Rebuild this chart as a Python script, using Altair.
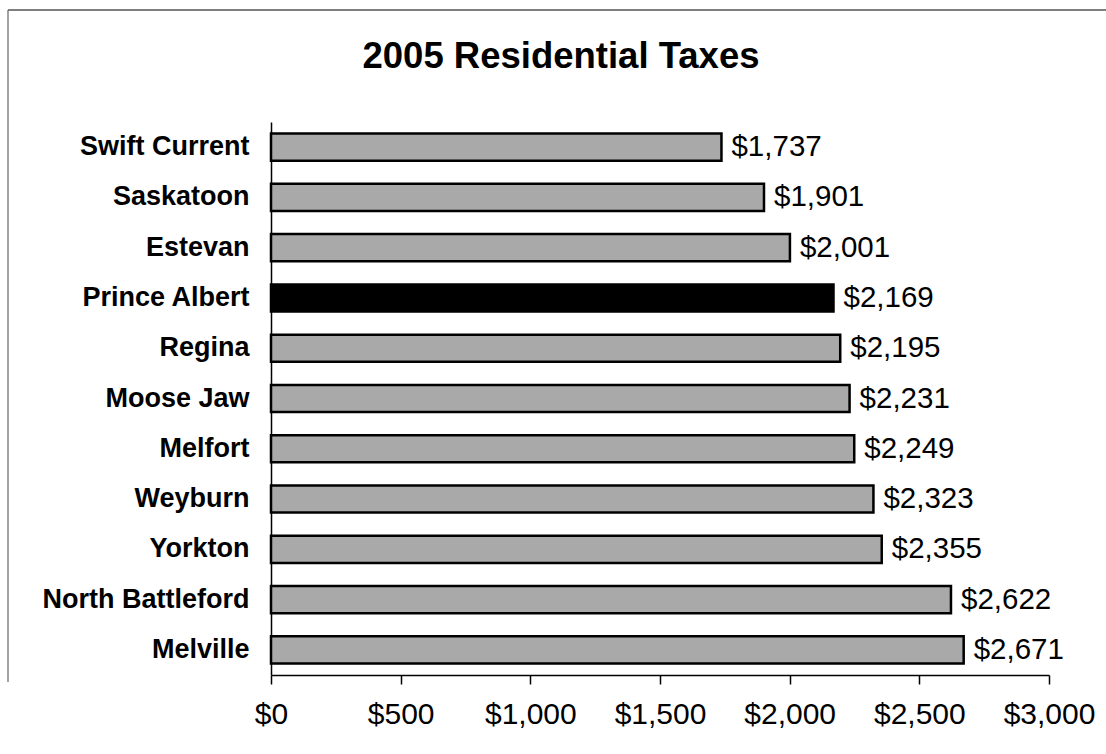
import altair as alt
import pandas as pd

title_text = "2005 Residential Taxes"
cities = ["Swift Current", "Saskatoon", "Estevan", "Prince Albert ", "Regina",
          "Moose Jaw", "Melfort", "Weyburn", "Yorkton", "North Battleford", "Melville"]
taxes = [1737, 1901, 2001, 2169, 2195, 2231, 2249, 2323, 2355, 2622, 2671]
highlight = "Prince Albert "

df = pd.DataFrame({"city": cities, "tax": taxes})
FONT = "Liberation Sans"

base = alt.Chart(df)

y_enc = alt.Y(
    "city:N", sort=cities, title=None,
    scale=alt.Scale(paddingInner=0.46, paddingOuter=0.23),
    axis=alt.Axis(labelFont=FONT, labelFontSize=27, labelFontWeight="bold",
                  labelColor="black", labelPadding=22, ticks=False, labelLimit=400,
                  domainColor="black", domainWidth=1.5),
)
x_enc = alt.X(
    "tax:Q", title=None,
    scale=alt.Scale(domain=[0, 3000], nice=False),
    axis=alt.Axis(values=[0, 500, 1000, 1500, 2000, 2500, 3000], format="$,.0f",
                  labelFont=FONT, labelFontSize=30, labelColor="black",
                  labelPadding=15, tickSize=9, tickColor="black", tickWidth=1.5,
                  domainColor="black", domainWidth=1.5, grid=False,
                  labelFlush=False),
)

bars = base.mark_bar(stroke="black", strokeWidth=2.5).encode(
    x=x_enc, y=y_enc,
    color=alt.condition(alt.datum.city == highlight, alt.value("black"), alt.value("#a9a9a9")),
)

labels = base.mark_text(align="left", baseline="middle", dx=10, font=FONT,
                        fontSize=29.5, color="black").encode(
    x="tax:Q", y=alt.Y("city:N", sort=cities),
    text=alt.Text("tax:Q", format="$,.0f"),
)

frame_df = pd.DataFrame({"k": [0], "title": [title_text]})
top_line = alt.Chart(frame_df).mark_rule(color="#555555", strokeWidth=1.5).encode(
    x=alt.value(-263), x2=alt.value(835), y=alt.value(-112)
)
left_line = alt.Chart(frame_df).mark_rule(color="#666666", strokeWidth=1.2).encode(
    x=alt.value(-263), y=alt.value(-112), y2=alt.value(560)
)
title_mark = alt.Chart(frame_df).mark_text(
    font=FONT, fontSize=36.5, fontWeight="bold", color="black",
    align="center", baseline="alphabetic"
).encode(x=alt.value(290), y=alt.value(-54), text="title:N")

chart = alt.layer(bars, labels, top_line, left_line, title_mark).properties(
    width=778, height=553,
    autosize=alt.AutoSizeParams(type="none"),
    padding={"left": 271, "top": 122, "right": 57, "bottom": 79},
    background="white",
).configure_view(stroke=None)

chart.save("out.html", embed_options={"renderer": "svg", "actions": False})
